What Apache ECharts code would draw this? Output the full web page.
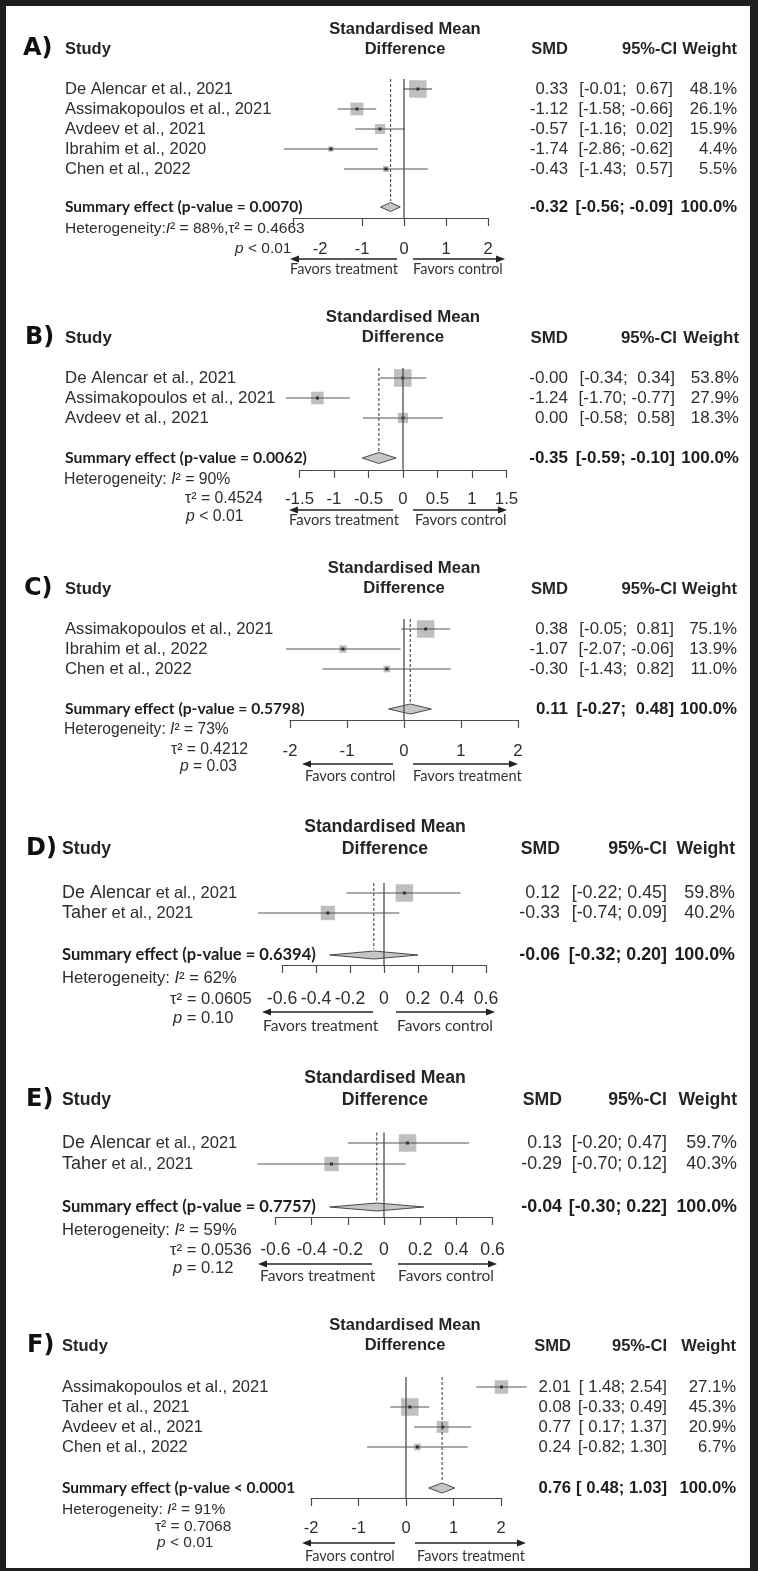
<!DOCTYPE html>
<html><head><meta charset="utf-8">
<script src="https://cdn.jsdelivr.net/npm/echarts@6/dist/echarts.min.js"></script>
<style>html,body{margin:0;padding:0;background:#fff}#c{width:758px;height:1571px}</style>
</head><body><div id="c"></div>
<script>
// ---------------- DATA ----------------
const studiesA = ['De Alencar et al., 2021','Assimakopoulos et al., 2021','Avdeev et al., 2021','Ibrahim et al., 2020','Chen et al., 2022'];
const smdA = [0.33,-1.12,-0.57,-1.74,-0.43];
const lowerA = [-0.01,-1.58,-1.16,-2.86,-1.43];
const upperA = [0.67,-0.66,0.02,-0.62,0.57];
const weightA = [48.1,26.1,15.9,4.4,5.5];
const summaryA = [-0.32,-0.56,-0.09];
const sumLabelA = 'Summary effect (p-value = 0.0070)';
const hetA = ['88%','0.4663','< 0.01'];
const ticksA = [-2,-1,0,1,2];
const favorsA = ['Favors treatment','Favors control'];

const studiesB = ['De Alencar et al., 2021','Assimakopoulos et al., 2021','Avdeev et al., 2021'];
const smdB = [-0.003,-1.24,0.00];
const lowerB = [-0.34,-1.70,-0.58];
const upperB = [0.34,-0.77,0.58];
const weightB = [53.8,27.9,18.3];
const summaryB = [-0.35,-0.59,-0.10];
const sumLabelB = 'Summary effect (p-value = 0.0062)';
const hetB = ['90%','0.4524','< 0.01'];
const ticksB = [-1.5,-1,-0.5,0,0.5,1,1.5];
const favorsB = ['Favors treatment','Favors control'];

const studiesC = ['Assimakopoulos et al., 2021','Ibrahim et al., 2022','Chen et al., 2022'];
const smdC = [0.38,-1.07,-0.30];
const lowerC = [-0.05,-2.07,-1.43];
const upperC = [0.81,-0.06,0.82];
const weightC = [75.1,13.9,11.0];
const summaryC = [0.11,-0.27,0.48];
const sumLabelC = 'Summary effect (p-value = 0.5798)';
const hetC = ['73%','0.4212','= 0.03'];
const ticksC = [-2,-1,0,1,2];
const favorsC = ['Favors control','Favors treatment'];

const studiesD = ['De Alencar et al., 2021','Taher et al., 2021'];
const smdD = [0.12,-0.33];
const lowerD = [-0.22,-0.74];
const upperD = [0.45,0.09];
const weightD = [59.8,40.2];
const summaryD = [-0.06,-0.32,0.20];
const sumLabelD = 'Summary effect (p-value = 0.6394)';
const hetD = ['62%','0.0605','= 0.10'];
const ticksD = [-0.6,-0.4,-0.2,0,0.2,0.4,0.6];
const favorsD = ['Favors treatment','Favors control'];

const studiesE = ['De Alencar et al., 2021','Taher et al., 2021'];
const smdE = [0.13,-0.29];
const lowerE = [-0.20,-0.70];
const upperE = [0.47,0.12];
const weightE = [59.7,40.3];
const summaryE = [-0.04,-0.30,0.22];
const sumLabelE = 'Summary effect (p-value = 0.7757)';
const hetE = ['59%','0.0536','= 0.12'];
const ticksE = [-0.6,-0.4,-0.2,0,0.2,0.4,0.6];
const favorsE = ['Favors treatment','Favors control'];

const studiesF = ['Assimakopoulos et al., 2021','Taher et al., 2021','Avdeev et al., 2021','Chen et al., 2022'];
const smdF = [2.01,0.08,0.77,0.24];
const lowerF = [1.48,-0.33,0.17,-0.82];
const upperF = [2.54,0.49,1.37,1.30];
const weightF = [27.1,45.3,20.9,6.7];
const summaryF = [0.76,0.48,1.03];
const sumLabelF = 'Summary effect (p-value < 0.0001';
const hetF = ['91%','0.7068','< 0.01'];
const ticksF = [-2,-1,0,1,2];
const favorsF = ['Favors control','Favors treatment'];

const panels = [
  {id:'A', studies:studiesA, smd:smdA, lo:lowerA, hi:upperA, w:weightA, sum:summaryA, sumLabel:sumLabelA, het:hetA, ticks:ticksA, favors:favorsA},
  {id:'B', studies:studiesB, smd:smdB, lo:lowerB, hi:upperB, w:weightB, sum:summaryB, sumLabel:sumLabelB, het:hetB, ticks:ticksB, favors:favorsB},
  {id:'C', studies:studiesC, smd:smdC, lo:lowerC, hi:upperC, w:weightC, sum:summaryC, sumLabel:sumLabelC, het:hetC, ticks:ticksC, favors:favorsC},
  {id:'D', studies:studiesD, smd:smdD, lo:lowerD, hi:upperD, w:weightD, sum:summaryD, sumLabel:sumLabelD, het:hetD, ticks:ticksD, favors:favorsD},
  {id:'E', studies:studiesE, smd:smdE, lo:lowerE, hi:upperE, w:weightE, sum:summaryE, sumLabel:sumLabelE, het:hetE, ticks:ticksE, favors:favorsE},
  {id:'F', studies:studiesF, smd:smdF, lo:lowerF, hi:upperF, w:weightF, sum:summaryF, sumLabel:sumLabelF, het:hetF, ticks:ticksF, favors:favorsF}
];

// ---------------- LAYOUT (pixels / styling) ----------------
const LAYOUT = {
  A:{sc:1.0, axisStart:-2.64, letterX:23, headX:65, headY:49, titleY:[29,49], titleX:405, row0:89, step:20, sumY:207, axisY:218, zeroPx:404, ppu:42, margin:23, smdR:568, ciR:673, ciHeadR:677, wR:737, het:[[65,229],[235,249]], compact:true, arrowY:259, favY:269, arrowL:[290,397], arrowR:[413,505], favLX:290, favRX:413, dh:4.5},
  B:{sc:1.02, letterX:25, headX:65, headY:338, titleY:[317,337], titleX:403, row0:378, step:20, sumY:458, axisY:470, zeroPx:403, ppu:69, margin:21, smdR:568, ciR:675, ciHeadR:677, wR:739, het:[[64,480],[185,499],[186,517]], arrowY:510, favY:520, arrowL:[289,393], arrowR:[413,507], favLX:289, favRX:415, dh:5.5},
  C:{sc:1.01, letterX:24, headX:65, headY:589, titleY:[568,588], titleX:404, row0:629, step:20, sumY:709, axisY:720, zeroPx:404, ppu:57, margin:23, smdR:568, ciR:674, ciHeadR:677, wR:737, het:[[64,730],[171,750],[180,767]], arrowY:764, favY:776, arrowL:[302,393], arrowR:[413,518], favLX:305, favRX:413, dh:5},
  D:{sc:1.07, letterX:26, headX:62, headY:849, titleY:[827,849], titleX:385, row0:893, step:20, sumY:955, axisY:965, zeroPx:384, ppu:170, margin:25, smdR:560, ciR:667, ciHeadR:667, wR:735, het:[[62,978],[170,999],[173,1018]], arrowY:1012, favY:1026, arrowL:[262,373], arrowR:[396,495], favLX:263, favRX:397, dh:4, bigName:true},
  E:{sc:1.07, letterX:26, headX:62, headY:1100, titleY:[1078,1100], titleX:385, row0:1143, step:21, sumY:1207, axisY:1217, zeroPx:384, ppu:181, margin:24, smdR:562, ciR:667, ciHeadR:667, wR:737, het:[[62,1230],[170,1250],[173,1268]], arrowY:1264, favY:1276, arrowL:[258,372], arrowR:[398,497], favLX:260, favRX:398, dh:4, bigName:true},
  F:{sc:1.0, letterX:27, headX:62, headY:1346, titleY:[1325,1345], titleX:405, row0:1387, step:20, sumY:1488, axisY:1498, zeroPx:406, ppu:47.5, margin:22, smdR:571, ciR:667, ciHeadR:667, wR:736, het:[[62,1510],[155,1527],[157,1543]], arrowY:1543, favY:1556, arrowL:[302,395], arrowR:[415,526], favLX:305, favRX:417, dh:5}
};

const FA = "'Liberation Sans', Arial, Helvetica, sans-serif";
const FC = "Lato, 'Open Sans', sans-serif";
const TXT = '#2e2e2e';
const HEAD = '#252525';
const LINE = '#4d4d4d';

function ciStrings(lo, hi){
  const negLo = lo.some(v => v < 0), negHi = hi.some(v => v < 0);
  return lo.map((l, i) => {
    const a = l.toFixed(2), b = hi[i].toFixed(2);
    const pa = (negLo && l >= 0) ? ' ' + a : a;
    const pb = (negHi && hi[i] >= 0) ? ' ' + b : b;
    return '[' + pa + '; ' + pb + ']';
  });
}

function txt(x, y, text, opt){
  const st = Object.assign({x:x, y:y, text:text, fill:TXT, fontFamily:FA, fontSize:16.5,
    align:'left', verticalAlign:'middle', textAlign:'left', textVerticalAlign:'middle'}, opt || {});
  if (opt && opt.align){ st.textAlign = opt.align; }
  return {type:'text', silent:true, z:10, style:st};
}

function rowRenderer(wMax){
  return function(params, api){
    const y = api.value(4);
    const pe = api.coord([api.value(0), y]);
    const pl = api.coord([api.value(1), y]);
    const ph = api.coord([api.value(2), y]);
    const s = 17.5 * Math.sqrt(api.value(3) / wMax);
    return {type:'group', children:[
      {type:'rect', shape:{x:pe[0]-s/2, y:pe[1]-s/2, width:s, height:s}, style:{fill:'#bfbfbf'}},
      {type:'line', shape:{x1:pl[0], y1:pl[1], x2:ph[0], y2:ph[1]}, style:{stroke:'#555', lineWidth:1.2}},
      {type:'rect', shape:{x:pe[0]-1.5, y:pe[1]-1.5, width:3, height:3}, style:{fill:'#333'}}
    ]};
  };
}
function diamondRenderer(h){
  return function(params, api){
    const y = api.value(3);
    const pe = api.coord([api.value(0), y]);
    const pl = api.coord([api.value(1), y]);
    const ph = api.coord([api.value(2), y]);
    return {type:'polygon', shape:{points:[[pl[0],pl[1]],[pe[0],pe[1]-h],[ph[0],ph[1]],[pe[0],pe[1]+h]]},
      style:{fill:'#c6c6c6', stroke:'#4a4a4a', lineWidth:1}};
  };
}

const option = {animation:false, backgroundColor:'#fff', grid:[], xAxis:[], yAxis:[], series:[], graphic:{elements:[]}};
const G = option.graphic.elements;

panels.forEach((p, k) => {
  const L = LAYOUT[p.id];
  const sc = L.sc;
  const xmin = p.ticks[0], xmax = p.ticks[p.ticks.length-1];
  const axMin = (L.axisStart !== undefined) ? L.axisStart : xmin;
  const tickVals = (L.axisStart !== undefined) ? [axMin].concat(p.ticks.slice(1)) : p.ticks;
  const top = L.row0 - L.step/2;
  const yMax = (L.axisY - L.row0) / L.step;
  const sumIdx = (L.sumY - L.row0) / L.step;
  option.grid.push({left:L.zeroPx + axMin*L.ppu, top:top, width:(xmax-axMin)*L.ppu, height:L.axisY-top,
    containLabel:false, outerBoundsMode:'none', show:false});
  option.xAxis.push({gridIndex:k, type:'value', min:axMin, max:xmax, position:'bottom',
    axisLine:{show:true, onZero:false, lineStyle:{color:LINE, width:1.2}},
    axisTick:{show:true, length:8, customValues:tickVals, lineStyle:{color:LINE, width:1.2}},
    axisLabel:{show:true, customValues:p.ticks, margin:L.margin, fontSize:16.5*sc, color:TXT, fontFamily:FA,
      showMinLabel:true, showMaxLabel:true, formatter:v => String(Math.round(v*10)/10)},
    splitLine:{show:false}});
  option.yAxis.push({gridIndex:k, type:'value', inverse:true, min:-0.5, max:yMax, show:false,
    axisLine:{onZero:false}, splitLine:{show:false}});

  option.series.push({type:'custom', xAxisIndex:k, yAxisIndex:k, clip:false, z:2, silent:true,
    data:p.smd.map((v,i) => [v, p.lo[i], p.hi[i], p.w[i], i]), encode:{x:[0,1,2], y:4},
    renderItem:rowRenderer(Math.max.apply(null, p.w))});
  option.series.push({type:'custom', xAxisIndex:k, yAxisIndex:k, clip:false, z:3, silent:true,
    data:[[p.sum[0], p.sum[1], p.sum[2], sumIdx]], encode:{x:[0,1,2], y:3},
    renderItem:diamondRenderer(L.dh)});
  option.series.push({type:'line', xAxisIndex:k, yAxisIndex:k, symbol:'none', z:4, silent:true,
    data:[[0,-0.5],[0,yMax]], lineStyle:{color:LINE, width:1.3}});
  option.series.push({type:'line', xAxisIndex:k, yAxisIndex:k, symbol:'none', z:4, silent:true,
    data:[[p.sum[0],-0.5],[p.sum[0],sumIdx-0.3]], lineStyle:{color:'#555', width:1.2, type:[3,2]}});

  // ---- texts ----
  const hb = {fontWeight:'bold', fill:HEAD, fontSize:16.5*sc};
  G.push(txt(L.letterX, L.headY, p.id + ')', {fontFamily:"'DejaVu Sans', sans-serif", fontWeight:'bold', fontSize:24, fill:'#111'}));
  G.push(txt(L.headX, L.headY, 'Study', hb));
  G.push(txt(L.titleX, L.titleY[0], 'Standardised Mean', Object.assign({align:'center'}, hb)));
  G.push(txt(L.titleX, L.titleY[1], 'Difference', Object.assign({align:'center'}, hb)));
  G.push(txt(L.smdR, L.headY, 'SMD', Object.assign({align:'right'}, hb)));
  G.push(txt(L.ciHeadR, L.headY, '95%-CI', Object.assign({align:'right'}, hb)));
  G.push(txt(L.wR, L.headY, 'Weight', Object.assign({align:'right'}, hb)));

  const numFs = 16.7*sc;
  const cis = ciStrings(p.lo.concat([p.sum[1]]), p.hi.concat([p.sum[2]]));
  p.studies.forEach((s, i) => {
    const y = L.row0 + i*L.step;
    if (L.bigName && s.indexOf(' et al.') > 0){
      const j = s.indexOf(' et al.');
      G.push(txt(L.headX, y, '{n|' + s.slice(0,j) + '}{s|' + s.slice(j) + '}', {rich:{
        n:{fontFamily:FA, fontSize:18, fill:TXT, color:TXT},
        s:{fontFamily:FA, fontSize:16.5, fill:TXT, color:TXT}}}));
    } else {
      G.push(txt(L.headX, y, s, {fontSize:16.5*sc}));
    }
    G.push(txt(L.smdR, y, p.smd[i].toFixed(2), {align:'right', fontSize:numFs}));
    G.push(txt(L.ciR, y, cis[i], {align:'right', fontSize:numFs}));
    G.push(txt(L.wR, y, p.w[i].toFixed(1) + '%', {align:'right', fontSize:numFs}));
  });
  // summary row
  G.push(txt(L.headX, L.sumY, p.sumLabel, {fontFamily:FC, fontWeight:'bold', fontSize:15.5*sc, fill:'#1e1e1e'}));
  G.push(txt(L.smdR, L.sumY, p.sum[0].toFixed(2), {align:'right', fontWeight:'bold', fill:'#1e1e1e', fontSize:numFs}));
  G.push(txt(L.ciR, L.sumY, cis[cis.length-1], {align:'right', fontWeight:'bold', fill:'#1e1e1e', fontSize:numFs}));
  const totalW = p.w.reduce((a,b) => a+b, 0);
  G.push(txt(L.wR, L.sumY, (Math.round(totalW)).toFixed(1) + '%', {align:'right', fontWeight:'bold', fill:'#1e1e1e', fontSize:numFs}));

  // heterogeneity
  const hf = 15.5*sc;
  const rich = {n:{fontFamily:FA, fontSize:hf, fill:TXT, color:TXT}, i:{fontFamily:FA, fontSize:hf, fontStyle:'italic', fill:TXT, color:TXT}};
  if (L.compact){
    G.push(txt(L.het[0][0], L.het[0][1], '{n|Heterogeneity:}{i|I}{n|\u00b2 = ' + p.het[0] + ',\u03c4\u00b2 = ' + p.het[1] + '}', {rich:rich}));
    G.push(txt(L.het[1][0], L.het[1][1], '{i|p}{n| ' + p.het[2] + '}', {rich:rich}));
  } else {
    G.push(txt(L.het[0][0], L.het[0][1], '{n|Heterogeneity: }{i|I}{n|\u00b2 = ' + p.het[0] + '}', {rich:rich}));
    G.push(txt(L.het[1][0], L.het[1][1], '{n|\u03c4\u00b2 = ' + p.het[1] + '}', {rich:rich}));
    G.push(txt(L.het[2][0], L.het[2][1], '{i|p}{n| ' + p.het[2] + '}', {rich:rich}));
  }

  // favours arrows
  const ay = L.arrowY;
  G.push({type:'line', silent:true, shape:{x1:L.arrowL[0]+6, y1:ay, x2:L.arrowL[1], y2:ay}, style:{stroke:'#222', lineWidth:1.6}});
  G.push({type:'polygon', silent:true, shape:{points:[[L.arrowL[0],ay],[L.arrowL[0]+9,ay-3.5],[L.arrowL[0]+9,ay+3.5]]}, style:{fill:'#222'}});
  G.push({type:'line', silent:true, shape:{x1:L.arrowR[0], y1:ay, x2:L.arrowR[1]-6, y2:ay}, style:{stroke:'#222', lineWidth:1.6}});
  G.push({type:'polygon', silent:true, shape:{points:[[L.arrowR[1],ay],[L.arrowR[1]-9,ay-3.5],[L.arrowR[1]-9,ay+3.5]]}, style:{fill:'#222'}});
  G.push(txt(L.favLX, L.favY, p.favors[0], {fontFamily:FC, fontSize:14.5*sc, fill:'#333'}));
  G.push(txt(L.favRX, L.favY, p.favors[1], {fontFamily:FC, fontSize:14.5*sc, fill:'#333'}));
});

// frame
const FR = '#1e1e1e';
G.push({type:'rect', silent:true, z:20, shape:{x:0, y:0, width:758, height:6}, style:{fill:FR}});
G.push({type:'rect', silent:true, z:20, shape:{x:0, y:0, width:6, height:1571}, style:{fill:FR}});
G.push({type:'rect', silent:true, z:20, shape:{x:750, y:0, width:8, height:1571}, style:{fill:FR}});
G.push({type:'rect', silent:true, z:20, shape:{x:0, y:1568, width:758, height:3}, style:{fill:FR}});

const chart = echarts.init(document.getElementById('c'), null, {renderer:'canvas', width:758, height:1571});
chart.setOption(option);
</script>
</body></html>
